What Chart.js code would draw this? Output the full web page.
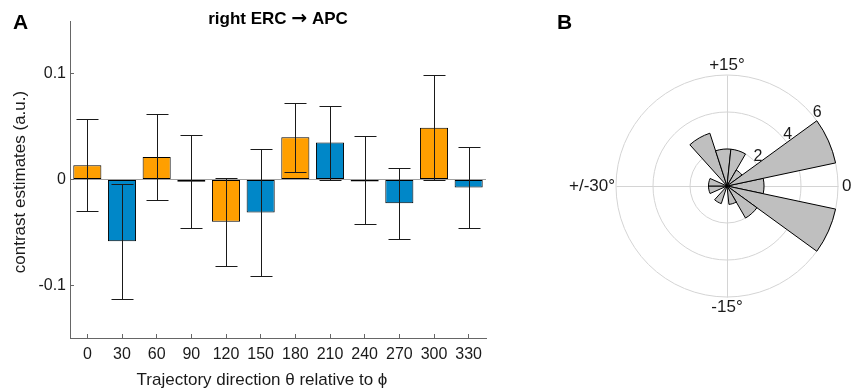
<!DOCTYPE html>
<html>
<head>
<meta charset="utf-8">
<script src="https://cdn.jsdelivr.net/npm/chart.js@4.4.1/dist/chart.umd.min.js"></script>
<style>
  html, body { margin: 0; padding: 0; background: #fff; overflow: hidden; }
  #barChart { position: absolute; left: 0; top: 0; }
  #roseChart { position: absolute; left: 557px; top: 0; }
</style>
</head>
<body>
<canvas id="barChart" width="540" height="390"></canvas>
<canvas id="roseChart" width="340" height="372"></canvas>
<script>
// panel A: contrast per trajectory direction
const directions = ['0', '30', '60', '90', '120', '150', '180', '210', '240', '270', '300', '330'];
const contrast = [0.0135, -0.0584, 0.0214, -0.0022, -0.0401, -0.0313, 0.0400, 0.0350, -0.0005, -0.0224, 0.0489, -0.0076];
const contrastErr = [0.0437, 0.0545, 0.0405, 0.0440, 0.0413, 0.0598, 0.0327, 0.0350, 0.0418, 0.0336, 0.0496, 0.0381];
const yTicks = [-0.1, 0, 0.1];

// panel B: rose histogram, bin centres in degrees (counter-clockwise from east)
const roseBins = [0, 24, 48, 72, 96, 120, 144, 168, 192, 216, 240, 264, 288, 312, 336];
const roseCounts = [2, 6, 1, 2, 2, 3, 0, 1, 1, 0, 1, 0, 1, 2, 6];
const roseRings = [2, 4, 6];
const roseAngleText = ['0', '+15°', '+/-30°', '-15°']; // east, north, west, south

const ORANGE = '#ff9f00';
const BLUE = '#0087c8';
const FONT = "'Liberation Sans', Arial, Helvetica, sans-serif";

Chart.defaults.font.family = FONT;
Chart.defaults.font.size = 16;
Chart.defaults.color = '#1a1a1a';

const errorBars = {
  id: 'errorBars',
  afterDatasetsDraw(chart) {
    const { ctx, scales: { x, y } } = chart;
    ctx.save();
    ctx.strokeStyle = '#1a1a1a';
    ctx.lineWidth = 1;
    contrast.forEach((v, i) => {
      const px = Math.round(x.getPixelForValue(i)) + 0.5;
      const top = Math.round(y.getPixelForValue(v + contrastErr[i])) + 0.5;
      const bot = Math.round(y.getPixelForValue(v - contrastErr[i])) + 0.5;
      ctx.beginPath();
      ctx.moveTo(px, top); ctx.lineTo(px, bot);
      ctx.moveTo(px - 11, top); ctx.lineTo(px + 11, top);
      ctx.moveTo(px - 11, bot); ctx.lineTo(px + 11, bot);
      ctx.stroke();
    });
    ctx.restore();
  }
};

const barText = {
  id: 'barText',
  afterDraw(chart) {
    const { ctx, chartArea: a } = chart;
    ctx.save();
    ctx.fillStyle = '#000';
    ctx.font = 'bold 21px ' + FONT;
    ctx.textAlign = 'left';
    ctx.textBaseline = 'middle';
    ctx.fillText('A', 13, 23);

    // title: text pieces with a larger arrow glyph in between
    const left = 'right ERC ', right = ' APC', arrow = '\u2192';
    const tFont = 'bold 17px ' + FONT, aFont = 'bold 19px "DejaVu Sans", sans-serif';
    ctx.font = tFont;
    const wl = ctx.measureText(left).width, wr = ctx.measureText(right).width;
    ctx.font = aFont;
    const wa = ctx.measureText(arrow).width;
    let tx = (a.left + a.right) / 2 - (wl + wa + wr) / 2;
    ctx.textBaseline = 'alphabetic';
    ctx.font = tFont;
    ctx.fillText(left, tx, 24);
    tx += wl;
    ctx.font = aFont;
    ctx.fillText(arrow, tx, 24);
    tx += wa;
    ctx.font = tFont;
    ctx.fillText(right, tx, 24);

    ctx.fillStyle = '#1a1a1a';
    ctx.font = '17px ' + FONT;
    ctx.textAlign = 'center';
    ctx.fillText('Trajectory direction \u03b8 relative to \u03d5', 262, 385);
    ctx.translate(20, 182);
    ctx.rotate(-Math.PI / 2);
    ctx.textBaseline = 'middle';
    ctx.fillText('contrast estimates (a.u.)', 0, 0);
    ctx.restore();
  }
};

new Chart(document.getElementById('barChart'), {
  type: 'bar',
  data: {
    labels: directions,
    datasets: [{
      data: contrast,
      backgroundColor: c => (c.dataIndex % 2 ? BLUE : ORANGE),
      borderColor: '#000',
      borderWidth: 1,
      borderSkipped: false,
      barPercentage: 0.81,
      categoryPercentage: 1,
      minBarLength: 2
    }]
  },
  options: {
    responsive: false,
    animation: false,
    layout: { padding: { top: 21, right: 54, bottom: 0, left: 0 } },
    plugins: { legend: { display: false }, tooltip: { enabled: false } },
    scales: {
      x: {
        grid: { offset: false, drawOnChartArea: false, tickLength: -4, tickColor: '#666' },
        border: { color: '#666' },
        ticks: { padding: 11 },
        afterFit: s => { s.height = 52; }
      },
      y: {
        min: -0.15,
        max: 0.15,
        afterBuildTicks: s => { s.ticks = yTicks.map(v => ({ value: v })); },
        ticks: { padding: 8, callback: v => String(v) },
        grid: {
          tickLength: -4,
          tickColor: '#666',
          color: c => (c.tick && c.tick.value === 0 ? '#a0a0a0' : 'rgba(0,0,0,0)')
        },
        border: { color: '#666' },
        afterFit: s => { s.width = 70; }
      }
    }
  },
  plugins: [errorBars, barText]
});

// Chart.js draws polar segments clockwise, so reverse the bin order
const n = roseCounts.length;
const roseData = roseCounts.map((_, j) => roseCounts[(n - j) % n]);
const roseLabels = roseBins.map((_, j) => roseBins[(n - j) % n]);

const roseDecor = {
  id: 'roseDecor',
  beforeDatasetsDraw(chart) {
    const r = chart.scales.r;
    const ctx = chart.ctx;
    const R = r.drawingArea;
    const cx = Math.round(r.xCenter) + 0.5, cy = Math.round(r.yCenter) + 0.5;
    ctx.save();
    ctx.strokeStyle = '#d4d4d4';
    ctx.lineWidth = 1;
    ctx.beginPath();
    ctx.moveTo(cx - R, cy); ctx.lineTo(cx + R, cy);
    ctx.moveTo(cx, cy - R); ctx.lineTo(cx, cy + R);
    ctx.stroke();
    ctx.restore();
  },
  afterDraw(chart) {
    const r = chart.scales.r;
    const ctx = chart.ctx;
    const R = r.drawingArea;
    const cx = r.xCenter, cy = r.yCenter;
    ctx.save();
    ctx.fillStyle = '#000';
    ctx.font = 'bold 21px ' + FONT;
    ctx.textAlign = 'left';
    ctx.textBaseline = 'middle';
    ctx.fillText('B', 0, 23);

    ctx.fillStyle = '#1a1a1a';
    ctx.font = '17px ' + FONT;
    const spots = [
      [cx + R + 4, cy, 'left'],
      [cx, cy - R - 10, 'center'],
      [cx - R - 1, cy, 'right'],
      [cx, cy + R + 10, 'center']
    ];
    roseAngleText.forEach((t, i) => {
      ctx.textAlign = spots[i][2];
      ctx.fillText(t, spots[i][0], spots[i][1]);
    });

    const a = 37 * Math.PI / 180;
    ctx.font = '16px ' + FONT;
    ctx.textAlign = 'center';
    ctx.textBaseline = 'bottom';
    roseRings.forEach(v => {
      const d = r.getDistanceFromCenterForValue(v);
      ctx.fillText(String(v), cx + d * Math.cos(a) + 1.5, cy - d * Math.sin(a) + 1);
    });
    ctx.restore();
  }
};

new Chart(document.getElementById('roseChart'), {
  type: 'polarArea',
  data: {
    labels: roseLabels,
    datasets: [{
      data: roseData,
      backgroundColor: '#bfbfbf',
      borderColor: '#000',
      borderWidth: 1
    }]
  },
  options: {
    responsive: false,
    animation: false,
    layout: { padding: { left: 59, right: 59, top: 75, bottom: 75 } },
    plugins: { legend: { display: false }, tooltip: { enabled: false } },
    scales: {
      r: {
        min: 0,
        max: 6,
        startAngle: 78,
        ticks: { display: false, stepSize: 2 },
        grid: { color: '#d4d4d4' },
        angleLines: { display: false },
        pointLabels: { display: false }
      }
    }
  },
  plugins: [roseDecor]
});
</script>
</body>
</html>
